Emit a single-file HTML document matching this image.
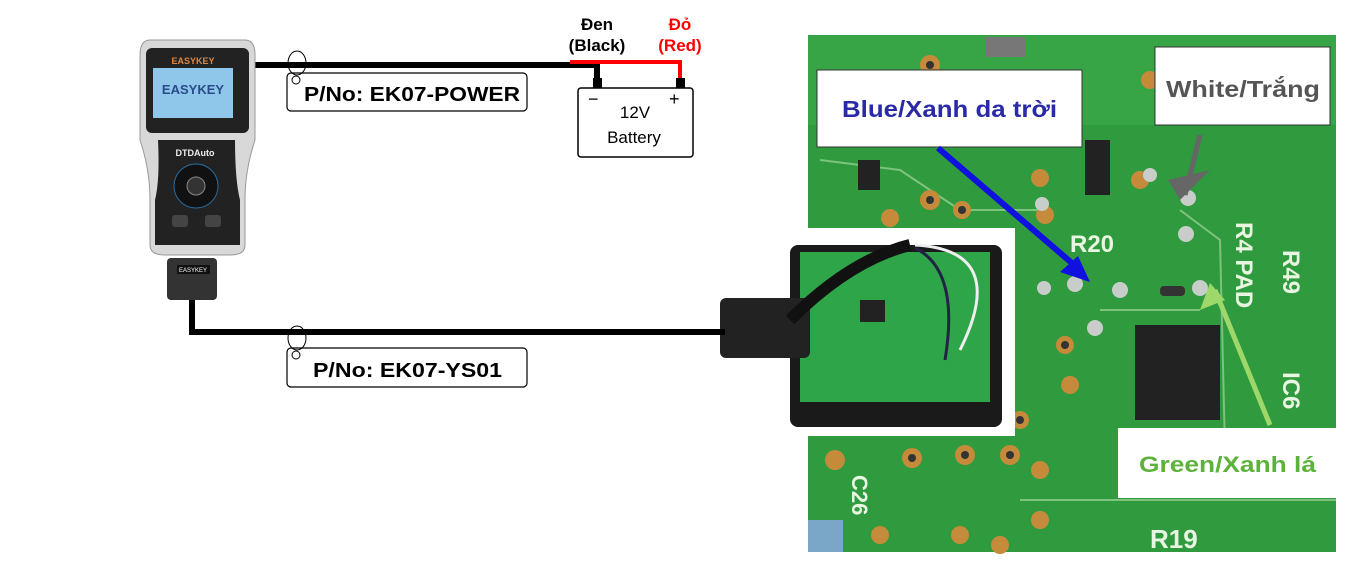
<!DOCTYPE html>
<html><head><meta charset="utf-8"><style>
body{margin:0;background:#fff;}
svg{display:block;font-family:"Liberation Sans","DejaVu Sans",sans-serif;}
</style></head><body>
<svg width="1371" height="562" viewBox="0 0 1371 562" xmlns="http://www.w3.org/2000/svg">
<!-- PCB background -->
<rect x="808" y="35" width="528" height="517" fill="#2f9a3e"/>
<rect x="808" y="35" width="528" height="90" fill="#3aa648" opacity="0.8"/>
<g stroke="#9fd49a" stroke-width="2" fill="none" opacity="0.7">
<path d="M820 160 L900 170 L960 210 L1040 210"/>
<path d="M1180 210 L1220 240 L1225 450"/>
<path d="M1100 310 L1200 310"/>
<path d="M1020 500 L1336 500"/>
<path d="M1310 470 L1336 470"/>
</g>
<g fill="#c58a3a">
<circle cx="930" cy="65" r="10"/><circle cx="1150" cy="80" r="9"/><circle cx="1140" cy="180" r="9"/>
<circle cx="930" cy="200" r="10"/><circle cx="962" cy="210" r="9"/><circle cx="890" cy="218" r="9"/>
<circle cx="1040" cy="178" r="9"/><circle cx="1045" cy="215" r="9"/><circle cx="1065" cy="345" r="9"/>
<circle cx="1070" cy="385" r="9"/><circle cx="1020" cy="420" r="9"/><circle cx="1040" cy="470" r="9"/>
<circle cx="835" cy="460" r="10"/><circle cx="912" cy="458" r="10"/><circle cx="965" cy="455" r="10"/>
<circle cx="1010" cy="455" r="10"/><circle cx="1040" cy="520" r="9"/><circle cx="880" cy="535" r="9"/>
<circle cx="960" cy="535" r="9"/><circle cx="1000" cy="545" r="9"/>
</g>
<g fill="#333"><circle cx="930" cy="65" r="4"/><circle cx="930" cy="200" r="4"/><circle cx="962" cy="210" r="4"/><circle cx="1065" cy="345" r="4"/><circle cx="1020" cy="420" r="4"/><circle cx="912" cy="458" r="4"/><circle cx="965" cy="455" r="4"/><circle cx="1010" cy="455" r="4"/></g>
<g fill="#c9cdc9"><circle cx="1044" cy="288" r="7"/><circle cx="1075" cy="284" r="8"/><circle cx="1120" cy="290" r="8"/><circle cx="1200" cy="288" r="8"/><circle cx="1186" cy="234" r="8"/><circle cx="1188" cy="198" r="8"/><circle cx="1095" cy="328" r="8"/><circle cx="1150" cy="175" r="7"/><circle cx="1042" cy="204" r="7"/></g>
<rect x="1135" y="325" width="85" height="95" fill="#222"/>
<rect x="1085" y="140" width="25" height="55" fill="#222"/>
<rect x="858" y="160" width="22" height="30" fill="#222"/>
<rect x="985" y="37" width="40" height="20" fill="#777"/>
<rect x="808" y="520" width="35" height="32" fill="#7aa7c7"/>
<rect x="1160" y="286" width="25" height="10" rx="4" fill="#333"/>
<g fill="#e8f5e0" font-weight="bold" font-size="24">
<text x="1070" y="252">R20</text>
<text transform="translate(852,475) rotate(90)" font-size="22">C26</text>
<text x="1150" y="548" font-size="26">R19</text>
<text transform="translate(1236,222) rotate(90)">R4 PAD</text>
<text transform="translate(1283,250) rotate(90)">R49</text>
<text transform="translate(1283,372) rotate(90)">IC6</text>
</g>
<!-- labels -->
<rect x="817" y="70" width="265" height="77" fill="#fff" stroke="#333" stroke-width="1"/>
<text x="842" y="117" fill="#2a2aa8" font-weight="bold" font-size="23" textLength="215" lengthAdjust="spacingAndGlyphs">Blue/Xanh da trời</text>
<rect x="1155" y="47" width="175" height="78" fill="#fff" stroke="#333" stroke-width="1"/>
<text x="1166" y="97" fill="#555" font-weight="bold" font-size="23" textLength="154" lengthAdjust="spacingAndGlyphs">White/Trắng</text>
<rect x="1118" y="428" width="218" height="70" fill="#fff"/>
<text x="1139" y="472" fill="#5cb23a" font-weight="bold" font-size="22" textLength="177" lengthAdjust="spacingAndGlyphs">Green/Xanh lá</text>
<!-- arrows -->
<line x1="938" y1="148" x2="1080" y2="270" stroke="#1010e0" stroke-width="6"/>
<polygon points="1090,282 1060,272 1078,256" fill="#1010e0"/>
<line x1="1200" y1="135" x2="1185" y2="195" stroke="#666" stroke-width="5"/>
<polygon points="1180,200 1168,180 1210,170" fill="#666"/>
<line x1="1270" y1="425" x2="1215" y2="290" stroke="#9ed86a" stroke-width="5"/>
<polygon points="1210,283 1200,310 1225,300" fill="#9ed86a"/>
<!-- module photo -->
<rect x="790" y="228" width="225" height="208" fill="#fff"/>
<rect x="790" y="245" width="212" height="182" rx="8" fill="#1a1a1a"/>
<rect x="800" y="252" width="190" height="150" fill="#2fa54a"/>
<rect x="720" y="298" width="90" height="60" rx="6" fill="#222"/>
<path d="M790 320 Q850 260 910 245" stroke="#111" stroke-width="12" fill="none"/>
<path d="M915 248 Q960 270 945 360" stroke="#224" stroke-width="3" fill="none"/>
<path d="M915 245 Q1010 250 960 350" stroke="#eee" stroke-width="3" fill="none"/>
<rect x="860" y="300" width="25" height="22" fill="#222"/>
<!-- wires -->
<polyline points="255,65 597,65 597,82" fill="none" stroke="#000" stroke-width="6"/>
<polyline points="570,62 680,62 680,82" fill="none" stroke="#f00" stroke-width="4"/>
<rect x="593" y="78" width="9" height="10" fill="#000"/>
<rect x="676" y="78" width="9" height="10" fill="#000"/>
<polyline points="192,300 192,332 725,332" fill="none" stroke="#000" stroke-width="6"/>
<!-- battery -->
<rect x="578" y="88" width="115" height="69" rx="3" fill="#fff" stroke="#000" stroke-width="1.5"/>
<text x="588" y="105" font-size="18">−</text>
<text x="669" y="105" font-size="18">+</text>
<text x="635" y="118" font-size="17" text-anchor="middle">12V</text>
<text x="634" y="143" font-size="17" text-anchor="middle">Battery</text>
<text x="597" y="30" font-size="17" font-weight="bold" text-anchor="middle">Đen</text>
<text x="597" y="51" font-size="17" font-weight="bold" text-anchor="middle">(Black)</text>
<text x="680" y="30" font-size="17" font-weight="bold" fill="#f00" text-anchor="middle">Đỏ</text>
<text x="680" y="51" font-size="17" font-weight="bold" fill="#f00" text-anchor="middle">(Red)</text>
<!-- labels -->
<rect x="287" y="73" width="240" height="38" rx="4" fill="#fff" stroke="#000" stroke-width="1.2"/>
<text x="304" y="101" font-size="20" font-weight="bold" textLength="216" lengthAdjust="spacingAndGlyphs">P/No: EK07-POWER</text>
<ellipse cx="297" cy="63" rx="9" ry="12" fill="none" stroke="#000"/>
<circle cx="296" cy="80" r="4" fill="none" stroke="#000"/>
<rect x="287" y="348" width="240" height="39" rx="4" fill="#fff" stroke="#000" stroke-width="1.2"/>
<text x="313" y="377" font-size="20" font-weight="bold" textLength="189" lengthAdjust="spacingAndGlyphs">P/No: EK07-YS01</text>
<ellipse cx="297" cy="338" rx="9" ry="12" fill="none" stroke="#000"/>
<circle cx="296" cy="355" r="4" fill="none" stroke="#000"/>
<!-- device -->
<path d="M150 40 Q140 40 140 55 L140 140 Q150 170 150 200 L150 245 Q150 255 165 255 L230 255 Q245 255 245 245 L245 200 Q245 170 255 140 L255 55 Q255 40 245 40 Z" fill="#d8d8d8" stroke="#999"/>
<rect x="146" y="48" width="103" height="85" rx="6" fill="#222"/>
<rect x="153" y="68" width="80" height="50" fill="#8ec7ea"/>
<text x="193" y="94" font-size="13" font-weight="bold" fill="#2a4a8a" text-anchor="middle">EASYKEY</text>
<text x="193" y="64" font-size="9" font-weight="bold" fill="#d84" text-anchor="middle">EASYKEY</text>
<path d="M158 140 L235 140 Q235 180 240 200 L240 245 L155 245 L155 200 Q160 180 158 140 Z" fill="#222"/>
<text x="195" y="156" font-size="9" font-weight="bold" fill="#eee" text-anchor="middle">DTDAuto</text>
<circle cx="196" cy="186" r="22" fill="#111" stroke="#2a6a9a"/>
<circle cx="196" cy="186" r="9" fill="#333" stroke="#888"/>
<rect x="172" y="215" width="16" height="12" rx="3" fill="#444"/>
<rect x="205" y="215" width="16" height="12" rx="3" fill="#444"/>
<rect x="167" y="258" width="50" height="42" rx="4" fill="#333"/>
<rect x="177" y="265" width="33" height="9" fill="#111"/>
<text x="193" y="272" font-size="6" fill="#fff" text-anchor="middle">EASYKEY</text>
</svg>
</body></html>
